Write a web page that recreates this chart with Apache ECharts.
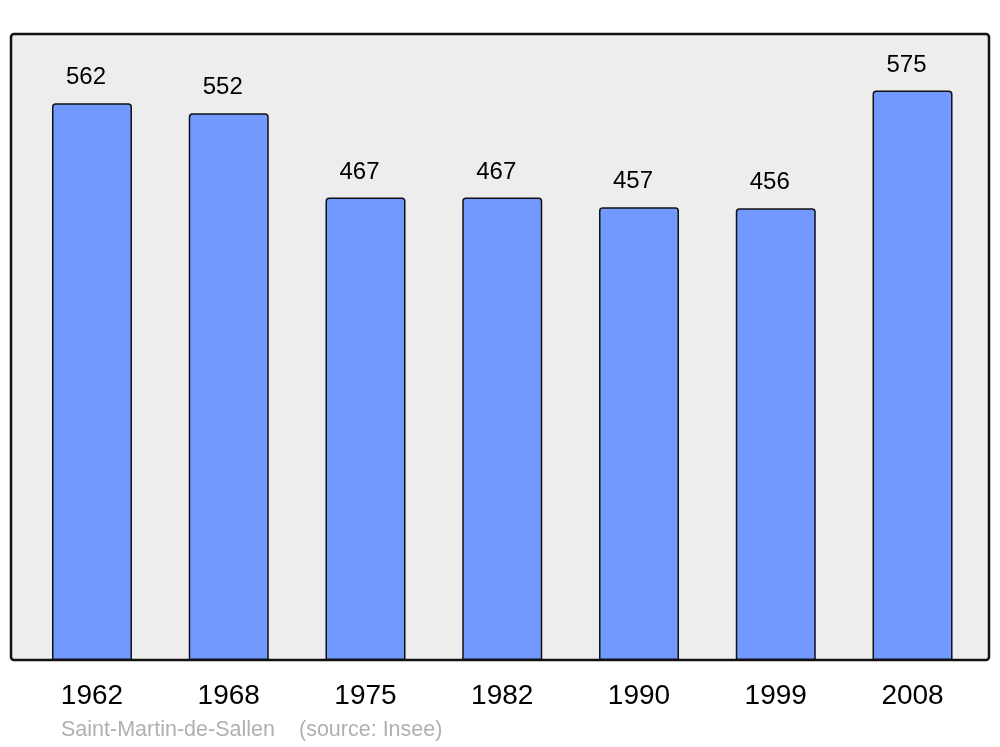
<!DOCTYPE html>
<html>
<head>
<meta charset="utf-8">
<script src="https://cdn.jsdelivr.net/npm/echarts@6/dist/echarts.min.js"></script>
<style>html,body{margin:0;padding:0;background:#fff;}#c{width:1000px;height:747px;}</style>
</head>
<body>
<div id="c"></div>
<script>
var years = ['1962', '1968', '1975', '1982', '1990', '1999', '2008'];
var population = [562, 552, 467, 467, 457, 456, 575];
var footerPlace = 'Saint-Martin-de-Sallen';
var footerSource = '(source: Insee)';

var chart = echarts.init(document.getElementById('c'));
chart.setOption({
  animation: false,
  backgroundColor: '#ffffff',
  textStyle: { fontFamily: 'Liberation Sans, Arial, sans-serif' },
  graphic: [
    {
      type: 'rect', z: -10, silent: true,
      shape: { x: 11, y: 34, width: 978, height: 626, r: 3 },
      style: { fill: '#ededed', stroke: '#111111', lineWidth: 2.5 }
    },
    {
      type: 'text', left: 61, top: 719,
      style: { text: footerPlace, fill: '#b0b0b0', fontSize: 21.5, fontFamily: 'Liberation Sans, Arial, sans-serif' }
    },
    {
      type: 'text', left: 299, top: 719,
      style: { text: footerSource, fill: '#b0b0b0', fontSize: 21.5, fontFamily: 'Liberation Sans, Arial, sans-serif' }
    }
  ],
  grid: { left: 23.6, right: 19.1, top: 34, bottom: 87, containLabel: false },
  xAxis: {
    type: 'category',
    data: years,
    axisLine: { show: false },
    axisTick: { show: false },
    axisLabel: { fontSize: 28, color: '#000', margin: 22, fontFamily: 'Liberation Sans, Arial, sans-serif' }
  },
  yAxis: {
    type: 'value', min: 0, max: 632,
    show: false,
    splitLine: { show: false }
  },
  series: [{
    type: 'bar',
    data: population,
    barWidth: '58.5%',
    itemStyle: { color: '#7299ff', borderColor: '#111111', borderWidth: 1.5, borderRadius: [3, 3, 0, 0] },
    label: {
      show: true, position: 'top', distance: 13.5, offset: [-6, 0],
      fontSize: 24, color: '#000', fontFamily: 'Liberation Sans, Arial, sans-serif'
    }
  }]
});
</script>
</body>
</html>
